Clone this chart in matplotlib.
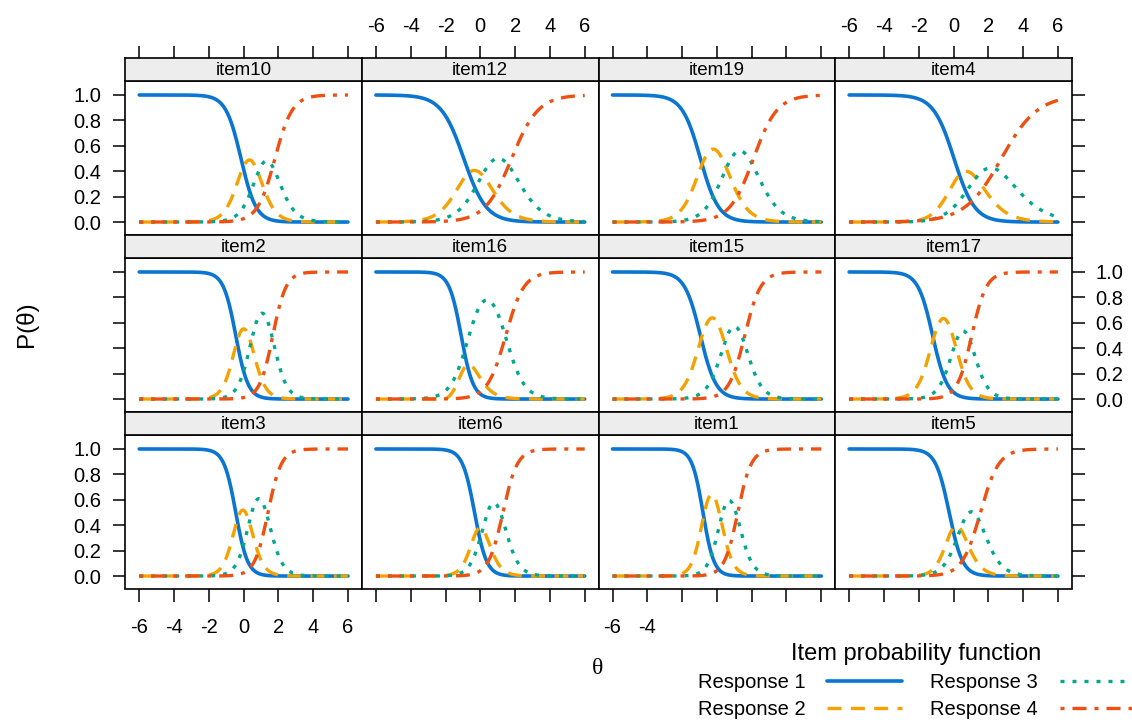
import numpy as np
import matplotlib
matplotlib.use("Agg")
import matplotlib.pyplot as plt

plt.rcParams['font.family'] = ['Liberation Sans', 'DejaVu Sans']

# ---- data (graded-response item parameters) ----
items = ['item10', 'item12', 'item19', 'item4',
         'item2', 'item16', 'item15', 'item17',
         'item3', 'item6', 'item1', 'item5']
# slopes of the three category boundaries
slope1 = [2.30, 1.55, 1.91, 1.69, 2.83, 2.89, 2.22, 2.39, 2.95, 2.89, 3.19, 2.59]
slope2 = [2.20, 1.45, 1.70, 1.30, 2.70, 2.00, 2.20, 2.40, 2.80, 2.60, 2.90, 2.15]
slope3 = [2.00, 1.31, 1.47, 0.96, 2.64, 1.91, 2.20, 2.39, 2.60, 2.41, 2.59, 1.90]
# location (threshold) of the three category boundaries
thresh1 = [-0.15, -0.95, -0.95, 0.03, -0.45, -1.10, -0.95, -1.20, -0.45, -0.33, -0.80, -0.25]
thresh2 = [0.80, 0.20, 0.50, 1.15, 0.45, -0.68, 0.42, 0.05, 0.35, 0.25, 0.20, 0.45]
thresh3 = [1.80, 1.80, 2.10, 2.75, 1.68, 1.46, 1.60, 1.05, 1.40, 1.30, 1.20, 1.55]

responses = ['Response 1', 'Response 2', 'Response 3', 'Response 4']
x_ticks = [-6, -4, -2, 0, 2, 4, 6]
y_ticks = [0.0, 0.2, 0.4, 0.6, 0.8, 1.0]

colors = ['#0a76d2', '#f5a200', '#00a88e', '#ef4f10']
styles = ['-', (0, (4.2, 2.8)), (0, (1.2, 2.4)), (0, (1.2, 2.4, 4.2, 2.4))]
widths = [2.6, 2.4, 2.4, 2.4]

theta = np.linspace(-6, 6, 500)

W, H = 1132, 720
fig = plt.figure(figsize=(W / 100, H / 100), dpi=100)

col_left = [125.3, 362.0, 598.6, 835.2]
col_w = 236.6
row_top = [58.0, 235.0, 412.0]
strip_h = 23.0
panel_h = 153.5
xlim = (-6.8, 6.8)
ylim = (-0.098, 1.11)


def rect(x, y_top, w, h):
    return [x / W, 1 - (y_top + h) / H, w / W, h / H]


def logistic(a, b):
    return 1.0 / (1.0 + np.exp(-a * (theta - b)))


tick_kw = dict(direction='out', length=9, width=1.1, labelsize=14.5, color='black')
handles = []
for i, name in enumerate(items):
    r, c = divmod(i, 4)
    ax = fig.add_axes(rect(col_left[c], row_top[r] + strip_h, col_w, panel_h))
    s1 = logistic(slope1[i], thresh1[i])
    s2 = logistic(slope2[i], thresh2[i])
    s3 = logistic(slope3[i], thresh3[i])
    probs = [1 - s1, np.clip(s1 - s2, 0, 1), np.clip(s2 - s3, 0, 1), s3]
    for k in range(4):
        ln, = ax.plot(theta, probs[k], color=colors[k], linestyle=styles[k],
                      lw=widths[k], solid_capstyle='round', dash_capstyle='butt')
        if i == 0:
            handles.append(ln)
    ax.set_xlim(*xlim)
    ax.set_ylim(*ylim)
    for sp in ax.spines.values():
        sp.set_linewidth(1.2)
    ax.tick_params(**tick_kw)
    ax.set_xticks(x_ticks)
    ax.set_yticks(y_ticks)
    ax.set_yticklabels([f'{v:.1f}' for v in y_ticks])
    # x ticks (bottom row only)
    if r == 2:
        if c == 0:
            ax.set_xticklabels([str(v) for v in x_ticks])
            ax.tick_params(axis='x', bottom=True, labelbottom=True, top=False, pad=12)
        elif c == 2:
            ax.set_xticklabels([str(v) if v <= -4 else '' for v in x_ticks])
            ax.tick_params(axis='x', bottom=True, labelbottom=True, top=False, pad=12)
        else:
            ax.tick_params(axis='x', bottom=True, labelbottom=False, top=False)
    else:
        ax.tick_params(axis='x', bottom=False, labelbottom=False, top=False, labeltop=False)
    # y ticks
    if c == 0:
        ax.tick_params(axis='y', left=True, labelleft=(r != 1), right=False, labelright=False, pad=8.5)
    elif c == 3:
        ax.tick_params(axis='y', left=False, labelleft=False, right=True, labelright=(r == 1), pad=8)
    else:
        ax.tick_params(axis='y', left=False, labelleft=False, right=False, labelright=False)

    # strip
    st = fig.add_axes(rect(col_left[c], row_top[r], col_w, strip_h))
    st.set_facecolor('#ededed')
    for sp in st.spines.values():
        sp.set_linewidth(1.2)
    st.set_xlim(*xlim)
    st.set_yticks([])
    st.text(0.5, 0.45, name, transform=st.transAxes, ha='center', va='center', fontsize=13.5)
    if r == 0:
        st.set_xticks(x_ticks)
        st.tick_params(axis='x', **tick_kw)
        st.tick_params(axis='x', top=True, bottom=False, labelbottom=False,
                       labeltop=(c in (1, 3)), pad=7)
        st.set_xticklabels([str(v) for v in x_ticks])
    else:
        st.set_xticks([])

fig.text(27 / W, 1 - 324 / H, 'P(θ)', rotation=90, ha='center', va='center', fontsize=17.5)
fig.text(598 / W, 1 - 668 / H, 'θ', ha='center', va='center', fontsize=17,
         family=['Liberation Serif', 'DejaVu Serif'])

leg = fig.legend(handles, responses, ncol=2, markerfirst=False, frameon=False,
                 title='Item probability function', title_fontsize=17, fontsize=14.5,
                 loc='center', bbox_to_anchor=(916 / W, 1 - 681 / H),
                 handlelength=3.7, handletextpad=1.1, columnspacing=1.4,
                 labelspacing=0.4, borderpad=0.0, borderaxespad=0.0)

fig.savefig('out.png', dpi=100)
